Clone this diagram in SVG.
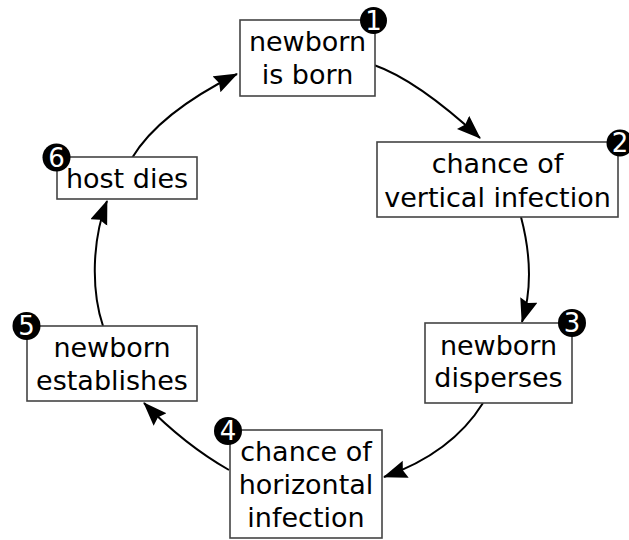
<svg xmlns="http://www.w3.org/2000/svg" width="629" height="540" viewBox="0 0 629 540">
<style>
.box{fill:#fff;stroke:#444;stroke-width:1.6}
.lbl{font-family:"DejaVu Sans",sans-serif;font-size:27px;fill:#000;text-anchor:middle}
.badge{fill:#000}
.num{font-family:"DejaVu Sans",sans-serif;font-size:26px;fill:#fff;text-anchor:middle}
.edge{fill:none;stroke:#000;stroke-width:2}
</style>
<defs>
<marker id="arr" markerUnits="userSpaceOnUse" markerWidth="26" markerHeight="20" refX="23" refY="9" orient="auto">
<path d="M0,0 L24,9 L0,18 L3,9 z" fill="#000"/>
</marker>
</defs>
<g id="connectors">
<path class="edge" d="M374,65 Q417,80 480,138" marker-end="url(#arr)"/>
<path class="edge" d="M521,217 C531,255 532,290 522,322" marker-end="url(#arr)"/>
<path class="edge" d="M483,403 Q452,453 384,477" marker-end="url(#arr)"/>
<path class="edge" d="M229,470 Q185,445 144,403" marker-end="url(#arr)"/>
<path class="edge" d="M103,326 C91,290 92,240 107,201" marker-end="url(#arr)"/>
<path class="edge" d="M132,158 Q159,113 237,74" marker-end="url(#arr)"/>
</g>
<g id="node1">
<rect class="box" x="240" y="20" width="135" height="76"/>
<text class="lbl" x="307.5" y="51">newborn</text>
<text class="lbl" x="307.5" y="84">is born</text>
<circle class="badge" cx="373.5" cy="20.5" r="13.5"/>
<text class="num" x="373.5" y="29.5">1</text>
</g>
<g id="node2">
<rect class="box" x="377" y="142" width="241" height="75"/>
<text class="lbl" x="497.5" y="173">chance of</text>
<text class="lbl" x="497.5" y="207">vertical infection</text>
<circle class="badge" cx="620" cy="143" r="13.5"/>
<text class="num" x="620" y="152">2</text>
</g>
<g id="node3">
<rect class="box" x="425" y="323" width="147" height="80"/>
<text class="lbl" x="498.5" y="355">newborn</text>
<text class="lbl" x="498.5" y="387">disperses</text>
<circle class="badge" cx="572" cy="323" r="14"/>
<text class="num" x="572" y="332">3</text>
</g>
<g id="node4">
<rect class="box" x="230" y="430" width="152" height="108"/>
<text class="lbl" x="306" y="461">chance of</text>
<text class="lbl" x="306" y="494">horizontal</text>
<text class="lbl" x="306" y="527">infection</text>
<circle class="badge" cx="228" cy="431" r="14"/>
<text class="num" x="228" y="440">4</text>
</g>
<g id="node5">
<rect class="box" x="27" y="326" width="170" height="75"/>
<text class="lbl" x="112" y="357">newborn</text>
<text class="lbl" x="112" y="390">establishes</text>
<circle class="badge" cx="26.5" cy="326" r="14"/>
<text class="num" x="26.5" y="335">5</text>
</g>
<g id="node6">
<rect class="box" x="57" y="157" width="140" height="42"/>
<text class="lbl" x="127" y="188">host dies</text>
<circle class="badge" cx="56.5" cy="157.5" r="14"/>
<text class="num" x="56.5" y="166.5">6</text>
</g>
</svg>
